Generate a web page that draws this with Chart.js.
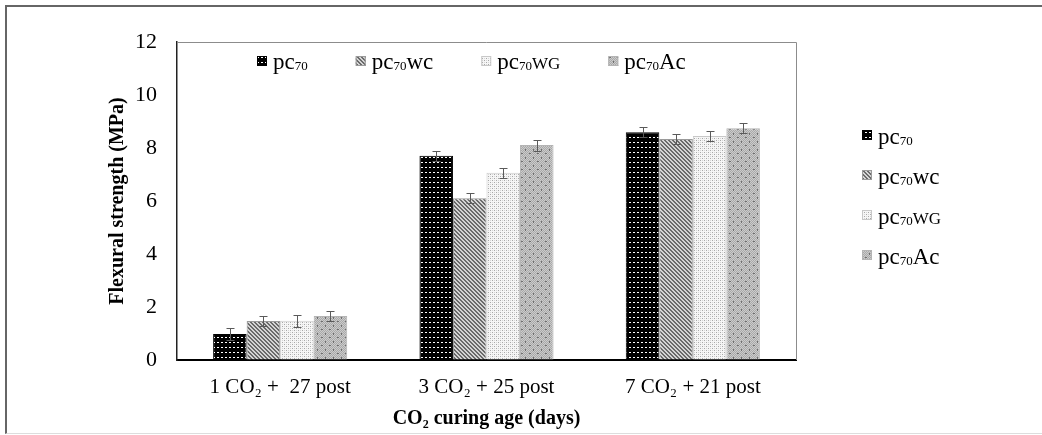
<!DOCTYPE html>
<html lang="en">
<head>
  <meta charset="UTF-8">
  <title>Flexural strength vs CO2 curing age</title>
  <script src="https://cdn.jsdelivr.net/npm/chart.js"></script>
  <style>
    html, body { margin: 0; padding: 0; background: #fff; }
    .wrap { position: relative; width: 1042px; height: 435px; overflow: hidden; }
    .frame {
      position: absolute; left: 5px; top: 5px; width: 1040px; height: 426px;
      border-top: 2px solid #666; border-left: 2px solid #666; border-bottom: 1px solid #ddd;
    }
    #chart { position: absolute; left: 0; top: 0; }
  </style>
</head>
<body>
  <div class="wrap">
    <div class="frame"></div>
    <canvas id="chart" width="1042" height="435"></canvas>
  </div>

  <script>
    // data
    const categories = ['1 CO₂ +  27 post', '3 CO₂ + 25 post', '7 CO₂ + 21 post'];
    const seriesNames = ['pc70', 'pc70wc', 'pc70WG', 'pc70Ac'];
    const pc70   = [0.98, 7.71, 8.59];
    const pc70wc = [1.47, 6.10, 8.34];
    const pc70WG = [1.48, 7.07, 8.45];
    const pc70Ac = [1.66, 8.11, 8.75];
    const errPc70   = [0.21, 0.19, 0.19];
    const errPc70wc = [0.20, 0.19, 0.19];
    const errPc70WG = [0.22, 0.19, 0.20];
    const errPc70Ac = [0.20, 0.21, 0.20];
    const yTicks = [0, 2, 4, 6, 8, 10, 12];

    const SERIF = '"Liberation Serif", "Times New Roman", serif';
    Chart.defaults.font.family = SERIF;
    Chart.defaults.color = '#000';

    // fill patterns for the four series
    function makePattern(w, h, draw) {
      const c = document.createElement('canvas');
      c.width = w; c.height = h;
      const g = c.getContext('2d');
      draw(g);
      return g.createPattern(c, 'repeat');
    }

    const patDots = makePattern(4, 5, g => {
      g.fillStyle = '#000'; g.fillRect(0, 0, 4, 5);
      g.fillStyle = '#fff'; g.fillRect(1, 2, 2, 1);
    });
    const patStripes = makePattern(4, 4, g => {
      g.fillStyle = '#d4d4d4'; g.fillRect(0, 0, 4, 4);
      g.fillStyle = '#6a6a6a';
      for (let i = 0; i < 4; i++) {
        g.fillRect(i, i, 1, 1);
        g.fillRect((i + 1) % 4, i, 1, 1);
      }
    });
    const patLight = makePattern(4, 4, g => {
      g.fillStyle = '#f6f6f6'; g.fillRect(0, 0, 4, 4);
      g.fillStyle = '#a8a8a8'; g.fillRect(0, 0, 1, 1); g.fillRect(2, 2, 1, 1);
      g.fillStyle = '#d6d6d6'; g.fillRect(2, 0, 1, 1); g.fillRect(0, 2, 1, 1);
    });
    const patGrey = makePattern(8, 8, g => {
      for (let y = 0; y < 8; y++) {
        for (let x = 0; x < 8; x++) {
          g.fillStyle = (x + y) % 2 ? '#a9a9a9' : '#cbcbcb';
          g.fillRect(x, y, 1, 1);
        }
      }
      g.fillStyle = '#6e6e6e';
      g.fillRect(1, 1, 2, 1); g.fillRect(5, 5, 1, 2);
    });

    const fills = [patDots, patStripes, patLight, patGrey];
    const borders = ['#000', '#9a9a9a', '#c8c8c8', '#b4b4b4'];
    const values = [pc70, pc70wc, pc70WG, pc70Ac];
    const errors = [errPc70, errPc70wc, errPc70WG, errPc70Ac];

    // legend text with the "70" as a subscript
    function drawName(ctx, name, x, baseline, size) {
      const i = name.indexOf('70');
      const head = name.slice(0, i);
      const tail = name.slice(i + 2);
      ctx.fillStyle = '#000';
      ctx.textAlign = 'left';
      ctx.textBaseline = 'alphabetic';
      ctx.font = size + 'px ' + SERIF;
      ctx.fillText(head, x, baseline);
      x += ctx.measureText(head).width;
      ctx.font = Math.round(size * 0.56) + 'px ' + SERIF;
      ctx.fillText('70', x, baseline + 1);
      x += ctx.measureText('70').width;
      if (tail === tail.toUpperCase()) {
        ctx.font = Math.round(size * 0.74) + 'px ' + SERIF;
      } else {
        ctx.font = size + 'px ' + SERIF;
      }
      ctx.fillText(tail, x, baseline);
      return x + ctx.measureText(tail).width;
    }

    function drawSwatch(ctx, i, x, cy) {
      ctx.fillStyle = fills[i];
      ctx.fillRect(x, cy - 5, 10, 10);
      ctx.strokeStyle = borders[i];
      ctx.lineWidth = 1;
      ctx.strokeRect(x + 0.5, cy - 4.5, 9, 9);
    }

    const plotFrame = {
      id: 'plotFrame',
      beforeDatasetsDraw(chart) {
        const {ctx, chartArea: a} = chart;
        ctx.save();
        ctx.strokeStyle = '#8c8c8c';
        ctx.lineWidth = 1;
        ctx.beginPath();
        ctx.moveTo(a.left, a.top + 0.5);
        ctx.lineTo(a.right + 0.5, a.top + 0.5);
        ctx.lineTo(a.right + 0.5, a.bottom);
        ctx.stroke();
        ctx.restore();
      }
    };

    const errorBars = {
      id: 'errorBars',
      afterDatasetsDraw(chart) {
        const {ctx, scales: {y}} = chart;
        ctx.save();
        ctx.strokeStyle = '#5a5a5a';
        ctx.lineWidth = 1;
        chart.data.datasets.forEach((ds, i) => {
          chart.getDatasetMeta(i).data.forEach((bar, j) => {
            const v = ds.data[j], e = errors[i][j];
            const top = Math.round(y.getPixelForValue(v + e)) + 0.5;
            const bot = Math.round(y.getPixelForValue(v - e)) + 0.5;
            const x = Math.round(bar.x) + 0.5;
            ctx.beginPath();
            ctx.moveTo(x, top); ctx.lineTo(x, bot);
            ctx.moveTo(x - 4, top); ctx.lineTo(x + 4, top);
            ctx.moveTo(x - 4, bot); ctx.lineTo(x + 4, bot);
            ctx.stroke();
          });
        });
        ctx.restore();
      }
    };

    const legends = {
      id: 'legends',
      afterDraw(chart) {
        const {ctx, chartArea: a} = chart;
        ctx.save();
        // row inside the top of the plot
        let x = a.left + 80;
        const cy = a.top + 19;
        seriesNames.forEach((name, i) => {
          drawSwatch(ctx, i, x, cy);
          const end = drawName(ctx, name, x + 16, cy + 8, 23);
          x = end + 48;
        });
        // column to the right of the plot
        seriesNames.forEach((name, i) => {
          const ry = a.top + 93 + i * 40;
          drawSwatch(ctx, i, a.right + 66, ry);
          drawName(ctx, name, a.right + 82, ry + 9, 23);
        });
        ctx.restore();
      }
    };

    new Chart(document.getElementById('chart'), {
      type: 'bar',
      data: {
        labels: categories,
        datasets: seriesNames.map((name, i) => ({
          label: name,
          data: values[i],
          backgroundColor: fills[i],
          borderColor: borders[i],
          borderWidth: 1,
          categoryPercentage: 0.65,
          barPercentage: 1.0
        }))
      },
      options: {
        responsive: false,
        animation: false,
        devicePixelRatio: 1,
        layout: { padding: { top: 42, right: 246, bottom: 0, left: 0 } },
        plugins: {
          legend: { display: false },
          tooltip: { enabled: false }
        },
        scales: {
          x: {
            afterFit: s => { s.height = 75; },
            grid: { drawOnChartArea: false, drawTicks: false },
            border: { display: true, color: '#000', width: 2 },
            ticks: { font: { size: 21 }, padding: 15, color: '#000' },
            title: {
              display: true,
              text: 'CO₂ curing age (days)',
              font: { size: 20, weight: 'bold' },
              color: '#000',
              padding: { top: 0, bottom: 4 }
            }
          },
          y: {
            min: 0,
            max: 12,
            afterFit: s => { s.width = 177; },
            afterBuildTicks: s => { s.ticks = yTicks.map(v => ({ value: v })); },
            grid: { drawOnChartArea: false, drawTicks: false },
            border: { display: true, color: '#222', width: 1.5 },
            ticks: { font: { size: 22 }, padding: 20, color: '#000' },
            title: {
              display: true,
              text: 'Flexural strength (MPa)',
              font: { size: 20, weight: 'bold' },
              color: '#000',
              padding: { top: 106, bottom: 0 }
            }
          }
        }
      },
      plugins: [plotFrame, errorBars, legends]
    });
  </script>
</body>
</html>
